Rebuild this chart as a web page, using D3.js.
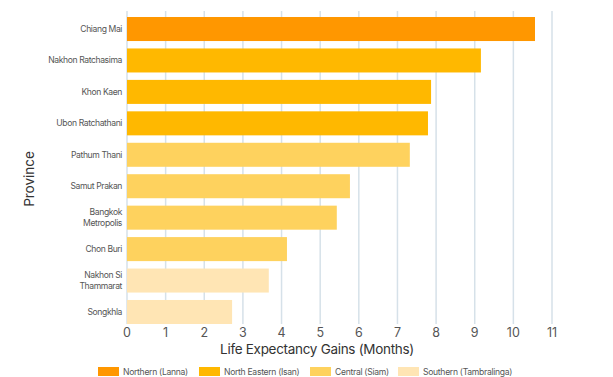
<!DOCTYPE html>
<html><head><meta charset="utf-8">
<script src="https://cdn.jsdelivr.net/npm/d3@7"></script>
<style>body{margin:0;background:#fff}svg{display:block}</style>
</head><body><svg id="c" width="613" height="377"></svg>
<script>
const provinces = ["Chiang Mai","Nakhon Ratchasima","Khon Kaen","Ubon Ratchathani","Pathum Thani","Samut Prakan","Bangkok Metropolis","Chon Buri","Nakhon Si Thammarat","Songkhla"];
const labelLines = [["Chiang Mai"],["Nakhon Ratchasima"],["Khon Kaen"],["Ubon Ratchathani"],["Pathum Thani"],["Samut Prakan"],["Bangkok","Metropolis"],["Chon Buri"],["Nakhon Si","Thammarat"],["Songkhla"]];
const gains = [10.56, 9.16, 7.87, 7.79, 7.32, 5.77, 5.43, 4.14, 3.67, 2.72];
const regions = ["Northern (Lanna)","North Eastern (Isan)","North Eastern (Isan)","North Eastern (Isan)","Central (Siam)","Central (Siam)","Central (Siam)","Central (Siam)","Southern (Tambralinga)","Southern (Tambralinga)"];
const regionNames = ["Northern (Lanna)","North Eastern (Isan)","Central (Siam)","Southern (Tambralinga)"];
const regionColors = ["#FF9700","#FFB800","#FED25E","#FFE5B4"];
const xTicks = [0,1,2,3,4,5,6,7,8,9,10,11];

const svg = d3.select("#c");
const font = "Inter, 'Noto Sans', sans-serif";
const x = d3.scaleLinear().domain([0,11]).range([127,552]);
const y = d3.scaleBand().domain(provinces).range([13.3,327.7]).paddingInner(0.236).paddingOuter(0.118);
const color = d3.scaleOrdinal().domain(regionNames).range(regionColors);

// grid
svg.append("g").selectAll("line").data(xTicks).join("line")
  .attr("x1",d=>x(d)).attr("x2",d=>x(d)).attr("y1",11).attr("y2",324)
  .attr("stroke","#d6e1e9").attr("stroke-width",1.5);

// bars
svg.append("g").selectAll("rect").data(provinces).join("rect")
  .attr("x",x(0)).attr("y",d=>y(d)).attr("height",y.bandwidth())
  .attr("width",(d,i)=>x(gains[i])-x(0))
  .attr("fill",(d,i)=>color(regions[i]));

// x tick labels
svg.append("g").selectAll("text").data(xTicks).join("text")
  .attr("x",d=>x(d)).attr("y",337).attr("text-anchor","middle")
  .attr("font-family",font).attr("font-size",12.5).attr("fill","#555")
  .text(d=>d);

// category labels
const lab = svg.append("g").selectAll("text").data(provinces).join("text")
  .attr("text-anchor","end").attr("font-family",font).attr("font-size",8.6)
  .attr("letter-spacing","-0.4").attr("fill","#555");
lab.each(function(d,i){
  const lines = labelLines[i];
  const cy = y(d)+y.bandwidth()/2;
  const t = d3.select(this);
  lines.forEach((l,j)=>{
    t.append("tspan").attr("x",122)
     .attr("y",cy + (j-(lines.length-1)/2)*11.5 + 3)
     .text(l);
  });
});

// axis titles
svg.append("text").attr("x",317).attr("y",354).attr("text-anchor","middle")
  .attr("font-family",font).attr("font-size",13.5).attr("fill","#333")
  .attr("letter-spacing","-0.3").text("Life Expectancy Gains (Months)");
svg.append("text").attr("transform","translate(34,179) rotate(-90)").attr("text-anchor","middle")
  .attr("font-family",font).attr("font-size",13.5).attr("fill","#333").text("Province");

// legend
const legX = [98,199,310,398];
const lg = svg.append("g").selectAll("g").data(regionNames).join("g")
  .attr("transform",(d,i)=>`translate(${legX[i]},367)`);
lg.append("rect").attr("width",21).attr("height",9).attr("fill",d=>color(d));
lg.append("text").attr("x",25).attr("y",8).attr("font-family",font).attr("font-size",8.6)
  .attr("letter-spacing","-0.3").attr("fill","#555").text(d=>d);
</script></body></html>
